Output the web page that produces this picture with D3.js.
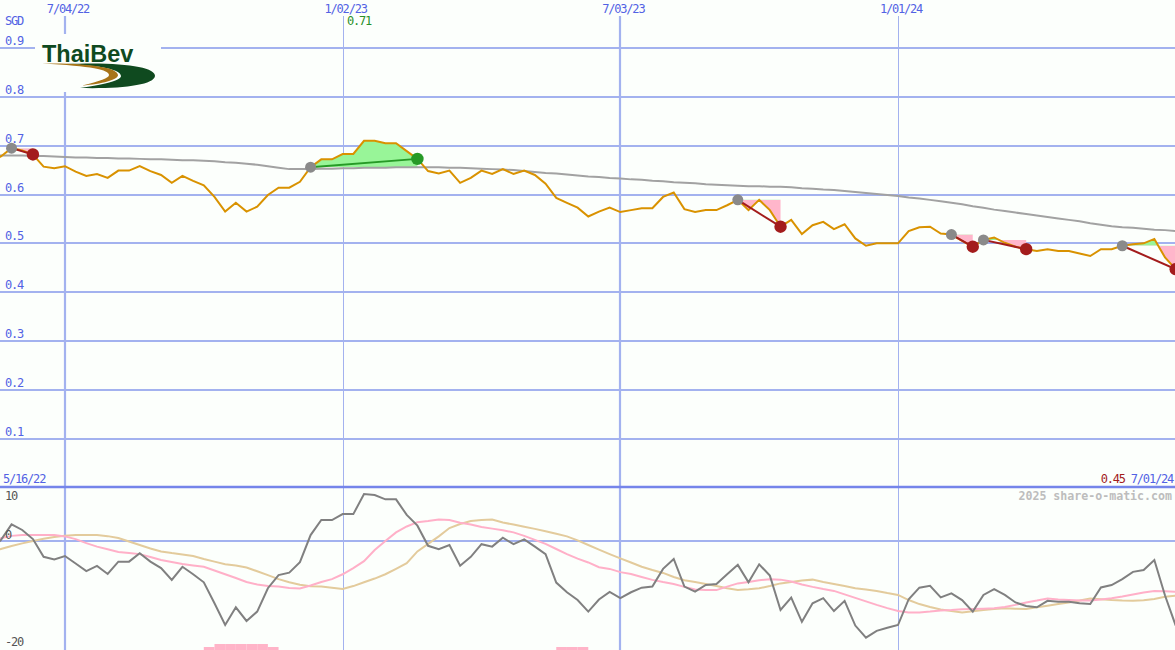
<!DOCTYPE html>
<html><head><meta charset="utf-8">
<script src="https://cdn.jsdelivr.net/npm/d3@7"></script>
<style>html,body{margin:0;padding:0;background:#fcfffc;} svg{display:block;}</style>
</head><body>
<svg id="chart" width="1175" height="650"></svg>
<script>
// ---------- DATA (weekly, starting 2022-05-16) ----------
const startDate = "2022-05-16";
const price = [
 .665,.678,.695,.690,.682,.657,.654,.658,.647,.638,
 .642,.634,.649,.649,.658,.648,.640,.624,.638,.628,
 .619,.595,.565,.583,.565,.575,.599,.614,.614,.626,
 .656,.672,.672,.683,.683,.710,.710,.705,.705,.689,
 .673,.648,.643,.649,.624,.634,.649,.642,.652,.642,
 .649,.640,.622,.593,.583,.573,.555,.565,.573,.564,
 .568,.572,.572,.595,.604,.570,.564,.568,.568,.578,
 .589,.568,.589,.568,.534,.548,.519,.537,.544,.529,
 .539,.510,.495,.500,.500,.500,.525,.533,.534,.520,
 .518,.505,.493,.507,.512,.501,.493,.488,.484,.488,
 .484,.484,.479,.474,.488,.488,.495,.498,.500,.509,
 .471,.447];
const movingAvg = [
 .680,.680,.680,.680,.679,.679,.678,.677,.676,.676,
 .675,.675,.674,.674,.673,.672,.672,.671,.670,.670,
 .669,.668,.666,.665,.663,.661,.658,.655,.652,.652,
 .652,.653,.653,.654,.654,.655,.655,.655,.656,.656,
 .656,.656,.656,.655,.655,.654,.653,.652,.651,.650,
 .648,.646,.644,.643,.641,.639,.637,.636,.634,.633,
 .631,.630,.628,.627,.625,.624,.623,.621,.620,.619,
 .618,.617,.617,.616,.616,.615,.613,.612,.610,.609,
 .607,.605,.603,.601,.599,.597,.594,.592,.589,.586,
 .583,.580,.576,.573,.569,.566,.563,.560,.557,.554,
 .551,.548,.545,.541,.538,.535,.533,.532,.530,.528,
 .527,.525];
const oscillator = [
 -1.5,0.1,3.05,2.0,0.3,-3.0,-3.5,-2.85,-4.25,-5.65,
 -4.7,-6.2,-3.9,-3.9,-2.35,-3.9,-5.1,-7.3,-4.85,-6.25,
 -7.75,-11.65,-15.7,-12.4,-14.95,-13.2,-8.85,-6.4,-5.95,-4.0,
 1.05,3.85,3.85,4.95,4.95,8.7,8.5,7.7,7.7,4.8,
 2.8,-0.95,-1.6,-0.8,-4.65,-3.0,-0.65,-1.1,0.55,-0.65,
 0.25,-1.1,-2.5,-7.8,-9.6,-11.05,-13.2,-10.95,-9.55,-10.7,
 -9.6,-8.75,-8.55,-5.25,-3.4,-8.55,-9.5,-8.25,-8.05,-6.25,
 -4.5,-7.75,-4.4,-6.5,-12.9,-10.6,-15.1,-11.65,-10.7,-13.1,
 -11.2,-15.8,-18.05,-16.8,-16.2,-15.7,-10.9,-8.75,-8.4,-10.55,
 -9.8,-11.05,-13.2,-10.1,-9.0,-10.1,-11.5,-12.15,-12.4,-11.2,
 -11.35,-11.35,-11.65,-11.8,-8.7,-8.25,-7.15,-5.8,-5.45,-3.6,
 -10.2,-15.8];
const oscFast = [
 0.2,0.45,0.9,1.05,1.05,1.05,1.05,0.8,0.3,-0.45,
 -1.1,-1.6,-2.1,-2.3,-2.5,-3.05,-3.6,-3.95,-4.35,-4.6,
 -4.85,-5.55,-6.25,-6.95,-7.7,-8.15,-8.45,-8.55,-8.8,-8.9,
 -8.35,-7.7,-7.15,-6.25,-5.1,-3.8,-1.75,-0.05,1.55,2.65,
 3.45,3.65,3.95,3.85,3.35,3.0,2.55,2.25,1.95,1.55,
 0.9,0.15,-0.6,-1.55,-2.5,-3.35,-4.05,-4.95,-5.25,-5.85,
 -6.2,-6.75,-7.3,-7.7,-8.05,-8.6,-9.1,-9.2,-9.2,-8.55,
 -7.95,-7.7,-7.35,-7.2,-7.25,-7.6,-8.15,-8.6,-9.0,-9.35,
 -10.0,-10.65,-11.3,-11.95,-12.55,-13.1,-13.35,-13.35,-13.2,-13.0,
 -12.9,-12.75,-12.7,-12.65,-12.6,-12.35,-11.95,-11.5,-11.15,-10.75,
 -10.95,-11.05,-11.15,-11.15,-10.95,-10.7,-10.4,-10.0,-9.65,-9.35,
 -9.4,-9.5];
const oscSlow = [
 -2.1,-1.55,-1.0,-0.5,-0.05,0.35,0.7,0.9,1.05,1.05,
 1.05,0.85,0.5,-0.15,-0.8,-1.45,-2.0,-2.3,-2.55,-2.85,
 -3.4,-3.9,-4.4,-4.6,-5.0,-5.7,-6.4,-7.15,-7.75,-8.2,
 -8.5,-8.55,-8.75,-9.0,-8.45,-7.75,-7.05,-6.25,-5.25,-4.2,
 -2.0,-0.6,0.8,2.35,3.1,3.65,3.85,3.95,3.4,3.0,
 2.6,2.2,1.75,1.3,0.8,0.05,-0.8,-1.65,-2.5,-3.3,
 -4.05,-4.85,-5.45,-6.0,-6.75,-7.35,-7.7,-8.05,-8.45,-8.85,
 -9.2,-9.05,-8.85,-8.45,-7.95,-7.7,-7.4,-7.25,-7.7,-8.05,
 -8.45,-8.85,-9.1,-9.35,-9.75,-10.1,-11.05,-11.8,-12.35,-12.8,
 -13.1,-13.35,-13.15,-12.9,-12.7,-12.6,-12.65,-12.7,-12.4,-12.1,
 -11.8,-11.5,-11.15,-10.75,-10.9,-11.05,-11.15,-11.2,-11.1,-10.85,
 -10.45,-10.25];
const barWeeks  = [20,21,22,23,24,25,26,53,54,55];
const barLevels = [1, 2, 2, 2, 2, 2, 1, 1, 1, 1];
const tradeEntries = [2, 30, 70, 90, 93, 106];
const tradeExits   = [4, 40, 74, 92, 97, 111];
const dateTicks = ["2022-07-04","2023-01-02","2023-07-03","2024-01-01"];
const dateTickMajor = [true,false,true,false];
const priceTicks = [0.1,0.2,0.3,0.4,0.5,0.6,0.7,0.8,0.9];
const oscTickLabels = ["10","0","-20"];
const oscTickValues = [10,0,-20];

// ---------- SETUP ----------
const W = 1175, H = 650;
const svg = d3.select("#chart");
const parse = d3.timeParse("%Y-%m-%d");
const fmtDate = d3.timeFormat("%-m/%d/%y");
const start = parse(startDate);
const dates = price.map((_, i) => d3.timeDay.offset(start, 7 * i));
const x = d3.scaleTime().domain([dates[0], dates[dates.length - 1]]).range([-9.8, 1175.7]);
const yP = d3.scaleLinear().domain([0, 1]).range([487.3, -0.7]);
const yO = d3.scaleLinear().domain([-20, 10]).range([648.1, 487.0]);

const FONT = "'DejaVu Sans Mono', monospace";
const BLUE = "#5262e4";
const GRID = "#a3b2ef";

svg.append("rect").attr("width", W).attr("height", H).attr("fill", "#fcfffc");

// horizontal gridlines (price)
const hgrid = priceTicks.concat([1.0]);
svg.append("g").selectAll("line").data(hgrid).join("line")
  .attr("x1", 0).attr("x2", W)
  .attr("y1", d => Math.round(yP(d))).attr("y2", d => Math.round(yP(d)))
  .attr("stroke", GRID).attr("stroke-width", 2);

// oscillator zero line
svg.append("line").attr("x1", 0).attr("x2", W)
  .attr("y1", Math.round(yO(0))).attr("y2", Math.round(yO(0)))
  .attr("stroke", GRID).attr("stroke-width", 2);

// vertical gridlines
svg.append("g").selectAll("line").data(dateTicks).join("line")
  .attr("x1", (d, i) => Math.round(x(parse(d))) + (dateTickMajor[i] ? 0 : 0.5))
  .attr("x2", (d, i) => Math.round(x(parse(d))) + (dateTickMajor[i] ? 0 : 0.5))
  .attr("y1", 16).attr("y2", H)
  .attr("stroke", GRID).attr("stroke-width", (d, i) => dateTickMajor[i] ? 2.2 : 1);

// panel separator
svg.append("line").attr("x1", 0).attr("x2", W)
  .attr("y1", Math.round(yP(0))).attr("y2", Math.round(yP(0)))
  .attr("stroke", "#7585ea").attr("stroke-width", 2.5);

// ---------- LOGO ----------
const logo = svg.append("g");
logo.append("rect").attr("x", 35).attr("y", 34).attr("width", 126).attr("height", 58).attr("fill", "#fcfffc");
logo.append("path")
  .attr("d", "M66,64 C122,61.5 156,67 155,76 C154,85 122,89 80,88 C108,84 121,80 121,76 C121,70 102,65.5 66,64 Z")
  .attr("fill", "#0f4a1f");
logo.append("path")
  .attr("d", "M42,63.5 C92,62.5 118,68 118,75 C118,80 102,84 82,85.5 C100,81 109,78 109,75 C109,70 92,66 42,63.5 Z")
  .attr("fill", "#a87418");
logo.append("text").attr("x", 42).attr("y", 62).text("ThaiBev")
  .attr("font-family", "'Liberation Sans', Arial, sans-serif").attr("font-weight", "bold")
  .attr("font-size", 23.5).attr("fill", "#0f4a1f");

// ---------- TRADE FILLS ----------
const defs = svg.append("defs");
tradeEntries.forEach((e, k) => {
  const ex = tradeExits[k];
  const ep = price[e];
  const yE = yP(ep);
  const idx = d3.range(e, ex + 1);
  const area = d3.area().x(i => x(dates[i])).y0(yE).y1(i => yP(price[i]));
  defs.append("clipPath").attr("id", "up" + k).append("rect")
    .attr("x", 0).attr("y", 0).attr("width", W).attr("height", yE);
  defs.append("clipPath").attr("id", "dn" + k).append("rect")
    .attr("x", 0).attr("y", yE).attr("width", W).attr("height", 487 - yE);
  svg.append("path").attr("d", area(idx)).attr("fill", "#98f598").attr("clip-path", `url(#up${k})`);
  svg.append("path").attr("d", area(idx)).attr("fill", "#ffb6cb").attr("clip-path", `url(#dn${k})`);
});

// moving average
svg.append("path").datum(movingAvg)
  .attr("d", d3.line().x((d, i) => x(dates[i])).y(d => yP(d)))
  .attr("fill", "none").attr("stroke", "#a2a2a2").attr("stroke-width", 2);

// price
svg.append("path").datum(price)
  .attr("d", d3.line().x((d, i) => x(dates[i])).y(d => yP(d)))
  .attr("fill", "none").attr("stroke", "#d99200").attr("stroke-width", 2);

// trade lines and dots
tradeEntries.forEach((e, k) => {
  const ex = tradeExits[k];
  const win = price[ex] > price[e];
  const col = win ? "#269a26" : "#a31c1c";
  svg.append("line")
    .attr("x1", x(dates[e])).attr("y1", yP(price[e]))
    .attr("x2", x(dates[ex])).attr("y2", yP(price[ex]))
    .attr("stroke", col).attr("stroke-width", 2);
  svg.append("circle").attr("cx", x(dates[e])).attr("cy", yP(price[e])).attr("r", 5.5).attr("fill", "#8a8a8a");
  svg.append("circle").attr("cx", x(dates[ex])).attr("cy", yP(price[ex])).attr("r", 6.2).attr("fill", col);
});

// ---------- OSCILLATOR PANEL ----------
const osc = svg.append("g");
const barH = d3.scaleLinear().domain([0, 2]).range([0, 6]);
osc.selectAll("rect").data(barWeeks).join("rect")
  .attr("x", w => x(dates[w])).attr("width", w => x(dates[w + 1]) - x(dates[w]))
  .attr("y", (w, i) => H - barH(barLevels[i])).attr("height", (w, i) => barH(barLevels[i]))
  .attr("fill", "#ffb4c8");
const oLine = d3.line().x((d, i) => x(dates[i])).y(d => yO(d));
osc.append("path").datum(oscSlow).attr("d", oLine).attr("fill", "none").attr("stroke", "#e3cb9c").attr("stroke-width", 2);
osc.append("path").datum(oscFast).attr("d", oLine).attr("fill", "none").attr("stroke", "#ffb0c8").attr("stroke-width", 2);
osc.append("path").datum(oscillator).attr("d", oLine).attr("fill", "none").attr("stroke", "#808080").attr("stroke-width", 2);

// ---------- TEXT ----------
const txt = (xx, yy, s, col, extra) => {
  const t = svg.append("text").attr("x", xx).attr("y", yy).text(s)
    .attr("font-family", FONT).attr("font-size", 12).attr("letter-spacing", -1.2).attr("fill", col);
  if (extra) extra(t);
  return t;
};
// date labels on top
dateTicks.forEach(d => {
  txt(x(parse(d)) + 3, 13, fmtDate(parse(d)), BLUE, t => t.attr("text-anchor", "middle"));
});
txt(5, 25, "SGD", BLUE);
priceTicks.forEach(v => txt(5, Math.round(yP(v)) - 3, d3.format(".1f")(v), BLUE));
const maxIdx = d3.maxIndex(price);
txt(x(dates[maxIdx]) - 17, 25, d3.format(".2f")(price[maxIdx]), "#2a8f2a");
txt(3, 483, fmtDate(dates[0]), BLUE);
const endT = svg.append("text").attr("x", 1173).attr("y", 483).attr("text-anchor", "end")
  .attr("font-family", FONT).attr("font-size", 12).attr("letter-spacing", -1.2);
endT.append("tspan").attr("fill", "#a31c1c").text(d3.format(".2f")(price[price.length - 1]));
endT.append("tspan").attr("fill", BLUE).text(" " + fmtDate(dates[dates.length - 1]));
svg.append("text").attr("x", 1172).attr("y", 500).attr("text-anchor", "end")
  .attr("font-family", FONT).attr("font-size", 11.6).attr("font-weight", "bold")
  .attr("fill", "#bdbdbd").text("2025 share-o-matic.com");
const oscLabelY = [500, 539, 646];
oscTickLabels.forEach((s, i) => txt(5, oscLabelY[i], s, "#555555"));
</script>
</body></html>
